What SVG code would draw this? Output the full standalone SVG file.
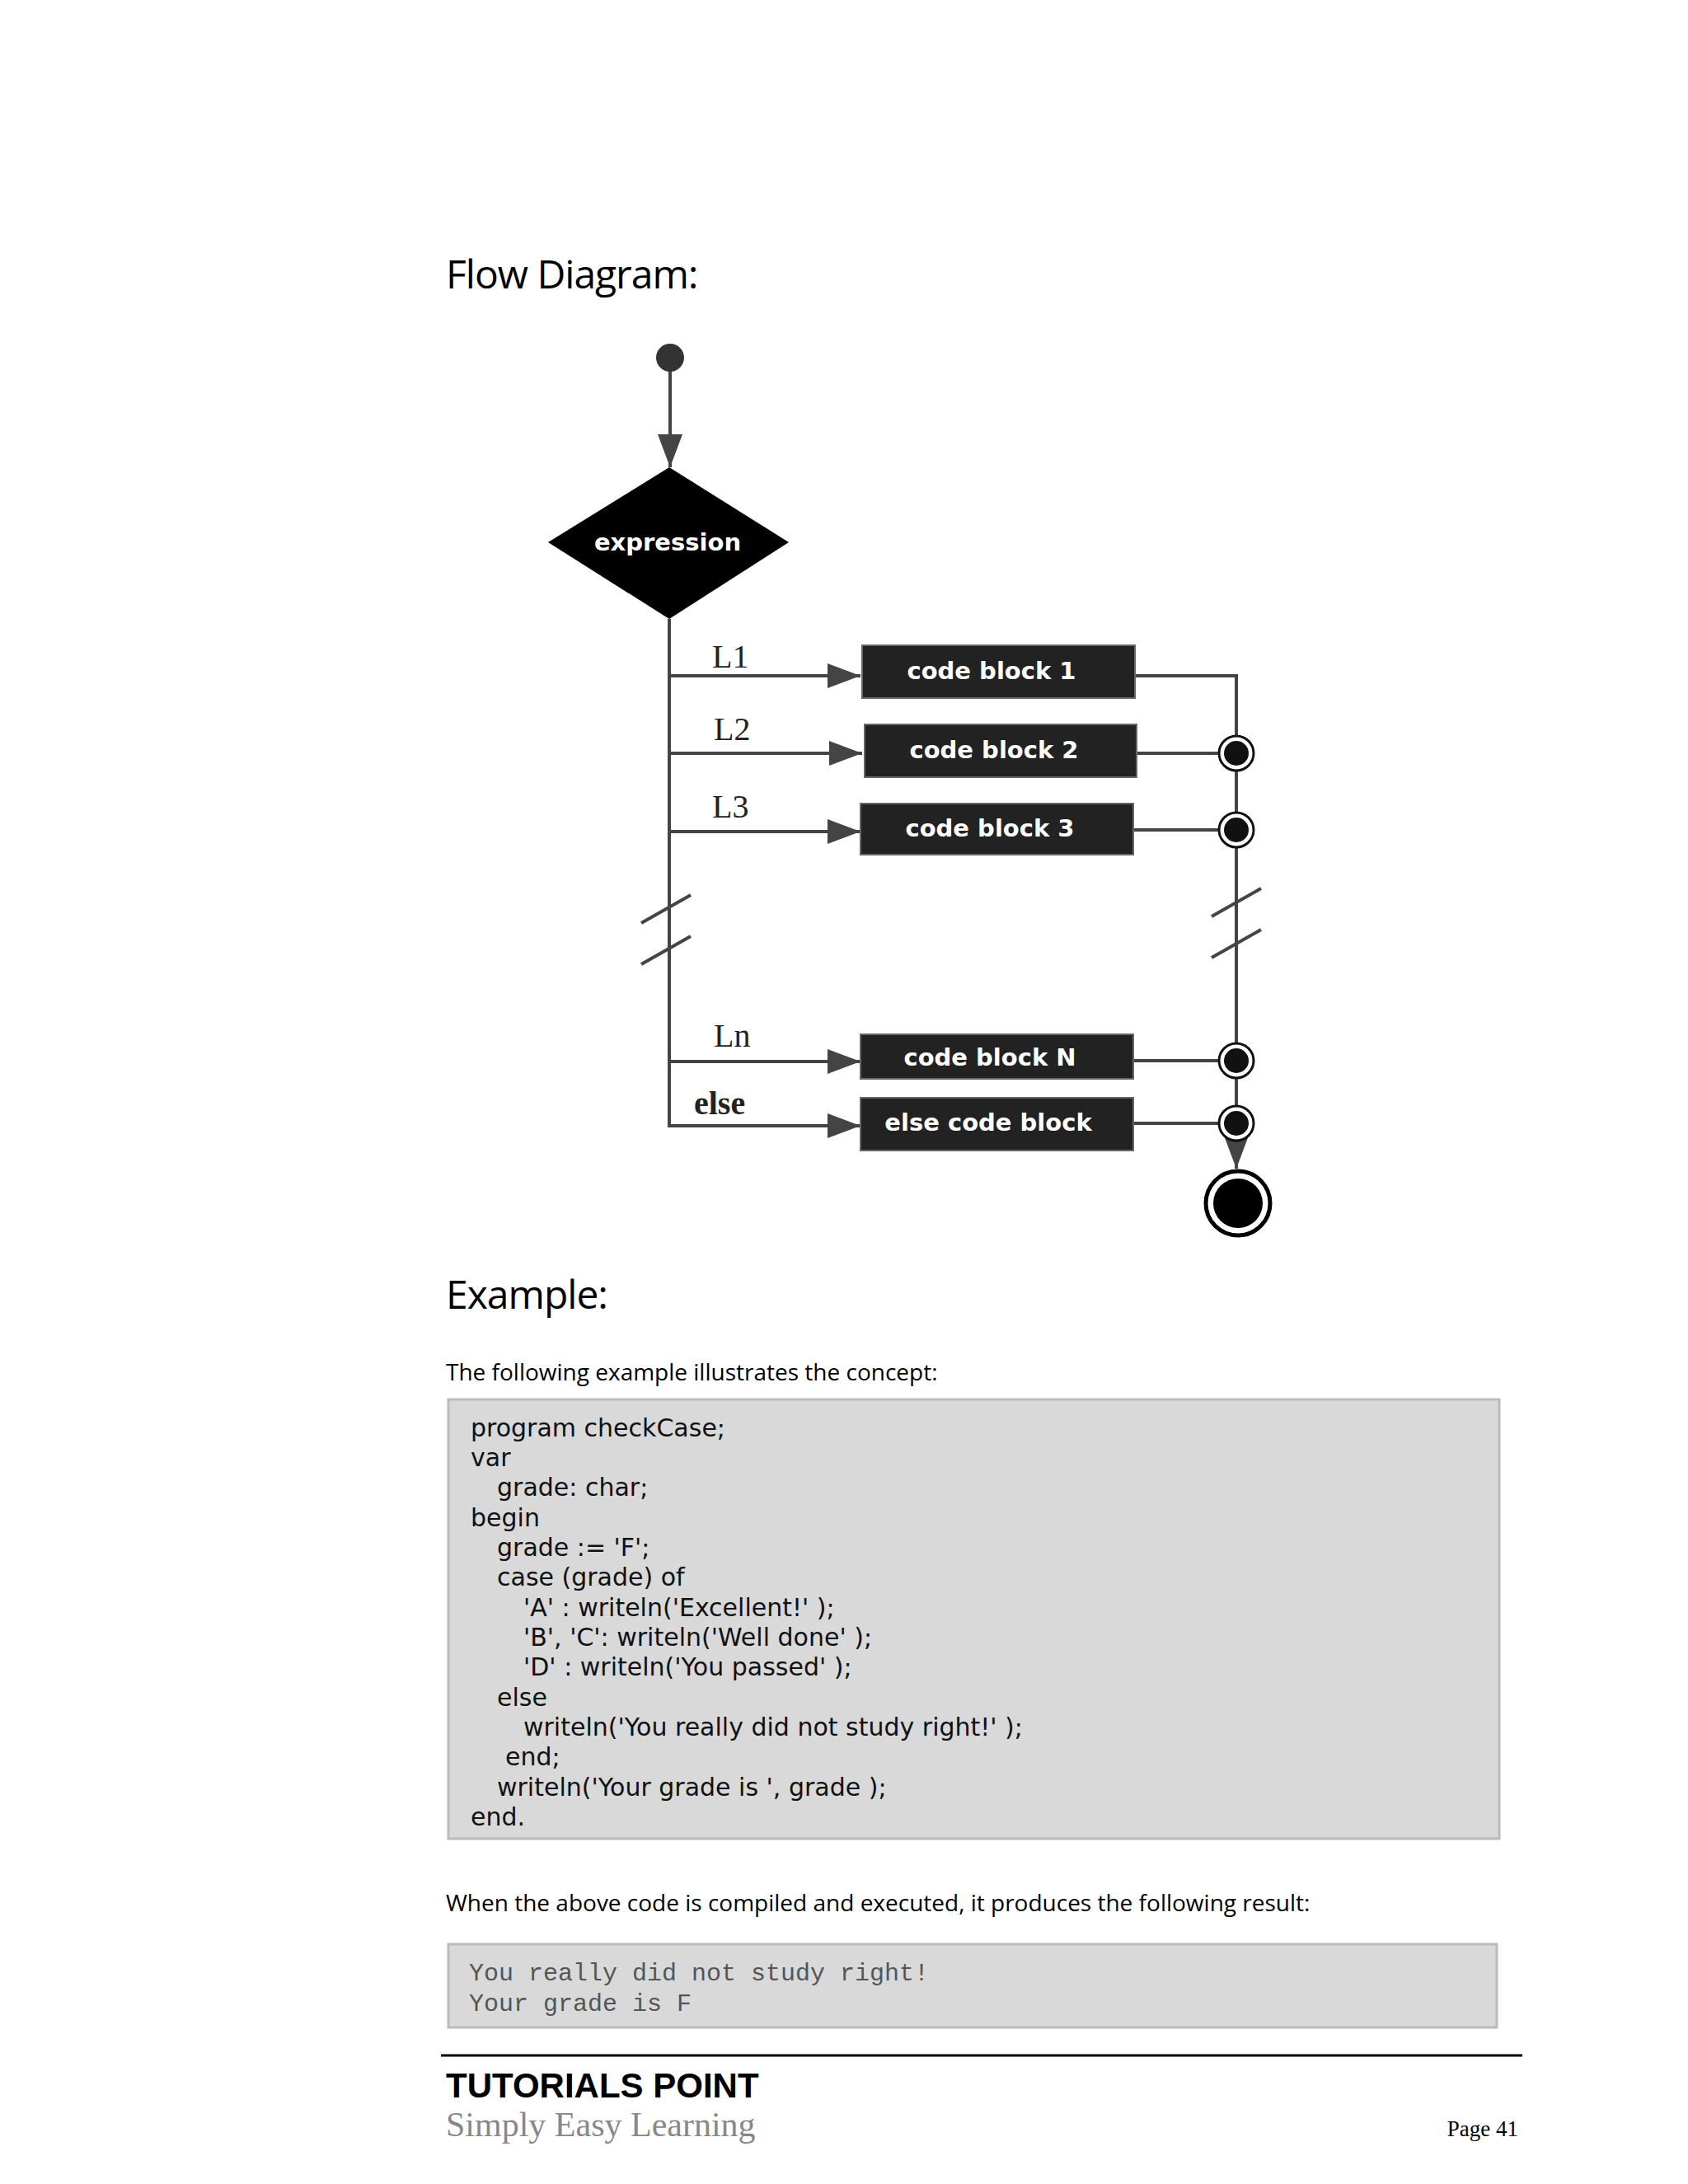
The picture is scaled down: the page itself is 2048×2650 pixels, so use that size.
<svg xmlns="http://www.w3.org/2000/svg" width="2048" height="2650" viewBox="0 0 2048 2650">
<style>
.h{font-family:"Open Sans","Liberation Sans",sans-serif;font-size:48px;fill:#000;letter-spacing:-1px}
.p{font-family:"Open Sans","Liberation Sans",sans-serif;font-size:28px;fill:#000}
.code{font-family:"DejaVu Sans","Liberation Sans",sans-serif;font-size:30px;fill:#111}
.out{font-family:"Liberation Mono",monospace;font-size:30px;fill:#555}
.box{fill:#222;stroke:#666;stroke-width:2}
.bt{font-family:"DejaVu Sans","Liberation Sans",sans-serif;font-size:29px;font-weight:bold;fill:#fff;text-anchor:middle}
.lb{font-family:"Liberation Serif",serif;font-size:40px;fill:#222}
.ln{stroke:#444;stroke-width:4;fill:none}
.jn{fill:#111;stroke:#111;stroke-width:3}
</style>
<defs>
<marker id="ah" viewBox="0 0 10 10" refX="10" refY="5" markerWidth="10" markerHeight="10" markerUnits="userSpaceOnUse" orient="auto"><path d="M0,0L10,5L0,10z" fill="#444"/></marker>
<marker id="ar" viewBox="0 0 40 30" refX="40" refY="15" markerWidth="40" markerHeight="30" markerUnits="userSpaceOnUse" orient="auto"><path d="M0,0L40,15L0,30z" fill="#444"/></marker>
</defs>
<rect width="2048" height="2650" fill="#fff"/>
<text class="h" x="541" y="350">Flow Diagram:</text>
<g id="connectors">
<line class="ln" x1="813" y1="440" x2="813" y2="567" marker-end="url(#ar)"/>
<path class="ln" d="M812,751V1366H1044"/>
<line class="ln" x1="812" y1="820" x2="1044" y2="820" marker-end="url(#ar)"/>
<line class="ln" x1="812" y1="914" x2="1046" y2="914" marker-end="url(#ar)"/>
<line class="ln" x1="812" y1="1009" x2="1044" y2="1009" marker-end="url(#ar)"/>
<line class="ln" x1="812" y1="1288" x2="1044" y2="1288" marker-end="url(#ar)"/>
<line class="ln" x1="812" y1="1366" x2="1044" y2="1366" marker-end="url(#ar)"/>
<path class="ln" d="M778,1120L838,1086M778,1170L838,1136"/>
<path class="ln" d="M1377,820H1500V1418"/>
<path class="ln" d="M1470,1112L1530,1078M1470,1162L1530,1128"/>
<line class="ln" x1="1379" y1="914" x2="1500" y2="914"/>
<line class="ln" x1="1375" y1="1007" x2="1500" y2="1007"/>
<line class="ln" x1="1375" y1="1287" x2="1500" y2="1287"/>
<line class="ln" x1="1375" y1="1363" x2="1500" y2="1363"/>
<line class="ln" x1="1500" y1="1380" x2="1500" y2="1418" marker-end="url(#ar)"/>
</g>
<g id="start"><circle cx="813" cy="434" r="17" fill="#333"/></g>
<g id="expression"><path d="M812,567L957,658L812,751L665,658z" fill="#000"/><text class="bt" x="810" y="668">expression</text></g>
<g id="labels">
<text class="lb" x="864" y="810">L1</text>
<text class="lb" x="866" y="898">L2</text>
<text class="lb" x="864" y="992">L3</text>
<text class="lb" x="866" y="1270">Ln</text>
<text class="lb" x="842" y="1352" font-weight="bold" font-size="38">else</text>
</g>
<g id="block1"><rect class="box" x="1046" y="783" width="331" height="64"/><text class="bt" x="1203" y="824">code block 1</text></g>
<g id="block2"><rect class="box" x="1049" y="879" width="330" height="64"/><text class="bt" x="1206" y="920">code block 2</text></g>
<g id="block3"><rect class="box" x="1044" y="975" width="331" height="62"/><text class="bt" x="1201" y="1015">code block 3</text></g>
<g id="blockN"><rect class="box" x="1044" y="1255" width="331" height="54"/><text class="bt" x="1201" y="1293">code block N</text></g>
<g id="elseblock"><rect class="box" x="1044" y="1332" width="331" height="64"/><text class="bt" x="1199" y="1372" font-family="Liberation Serif,serif" font-size="36">else code block</text></g>
<g id="junctions">
<circle cx="1500" cy="914" r="21" fill="#fff" stroke="#111" stroke-width="3"/><circle cx="1500" cy="914" r="15" fill="#111"/>
<circle cx="1500" cy="1007" r="21" fill="#fff" stroke="#111" stroke-width="3"/><circle cx="1500" cy="1007" r="15" fill="#111"/>
<circle cx="1500" cy="1287" r="21" fill="#fff" stroke="#111" stroke-width="3"/><circle cx="1500" cy="1287" r="15" fill="#111"/>
<circle cx="1500" cy="1363" r="21" fill="#fff" stroke="#111" stroke-width="3"/><circle cx="1500" cy="1363" r="15" fill="#111"/>
</g>
<g id="end"><circle cx="1502" cy="1460" r="39" fill="#fff" stroke="#000" stroke-width="5"/><circle cx="1502" cy="1460" r="30" fill="#000"/></g>
<text class="h" x="541" y="1588">Example:</text>
<text class="p" x="541" y="1675">The following example illustrates the concept:</text>
<rect x="544" y="1698" width="1275" height="533" fill="#d9d9d9" stroke="#bbb" stroke-width="3"/>
<g class="code">
<text x="571" y="1743">program checkCase;</text>
<text x="571" y="1779">var</text>
<text x="603" y="1815">grade: char;</text>
<text x="571" y="1852">begin</text>
<text x="603" y="1888">grade := 'F';</text>
<text x="603" y="1924">case (grade) of</text>
<text x="635" y="1961">'A' : writeln('Excellent!' );</text>
<text x="635" y="1997">'B', 'C': writeln('Well done' );</text>
<text x="635" y="2033">'D' : writeln('You passed' );</text>
<text x="603" y="2070">else</text>
<text x="635" y="2106">writeln('You really did not study right!' );</text>
<text x="613" y="2142">end;</text>
<text x="603" y="2179">writeln('Your grade is  ', grade );</text>
<text x="571" y="2215">end.</text>
</g>
<text class="p" x="541" y="2319">When the above code is compiled and executed, it produces the following result:</text>
<rect x="544" y="2359" width="1272" height="101" fill="#d9d9d9" stroke="#bbb" stroke-width="3"/>
<text class="out" x="569" y="2403">You really did not study right!</text>
<text class="out" x="569" y="2440">Your grade is F</text>
<line x1="535" y1="2494" x2="1847" y2="2494" stroke="#000" stroke-width="3"/>
<text x="541" y="2545" font-family="Liberation Sans,sans-serif" font-weight="bold" font-size="42">TUTORIALS POINT</text>
<text x="541" y="2592" font-family="Liberation Serif,serif" font-size="42" fill="#888">Simply Easy Learning</text>
<text x="1842" y="2592" font-family="Liberation Serif,serif" font-size="27" text-anchor="end">Page 41</text>
</svg>
